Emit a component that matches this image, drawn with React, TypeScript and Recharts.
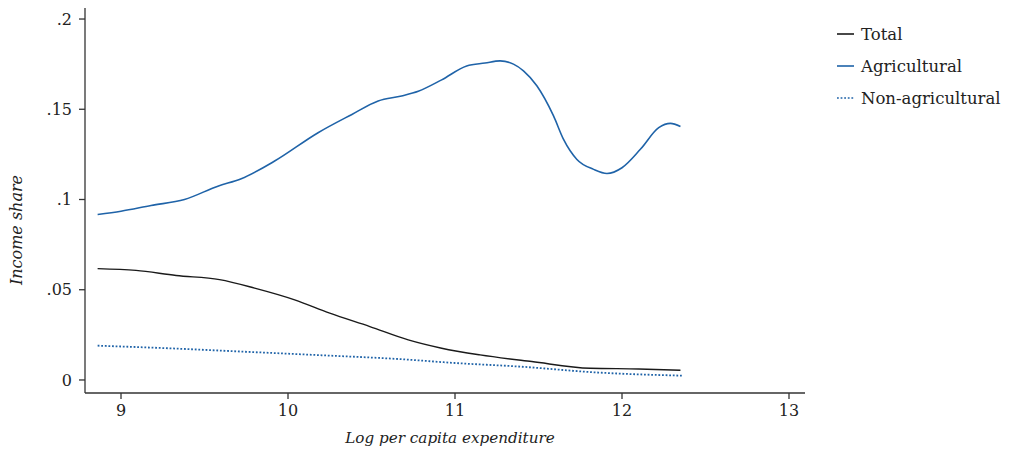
import { LineChart, Line, XAxis, YAxis, Legend } from 'recharts';

// Log per capita expenditure (x) and income share (y), read per series
const totalX = [8.86, 9.09, 9.33, 9.59, 9.8, 10.04, 10.25, 10.49, 10.72, 10.92, 11.15, 11.46, 11.81, 12.1, 12.35];
const totalY = [0.0617, 0.0607, 0.0579, 0.0556, 0.0509, 0.0444, 0.037, 0.0296, 0.0222, 0.0176, 0.0139, 0.0102, 0.0065, 0.0061, 0.0054];

const agriX = [
  8.86, 9.0, 9.18, 9.38, 9.58, 9.72, 9.92, 10.18, 10.38, 10.54, 10.68, 10.78, 10.92, 11.07, 11.18,
  11.27, 11.35, 11.41, 11.49, 11.59, 11.65, 11.73, 11.83, 11.91, 12.0, 12.11, 12.22, 12.29, 12.35,
];
const agriY = [
  0.0917, 0.0935, 0.0967, 0.1, 0.1074, 0.1115, 0.1213, 0.137, 0.147, 0.1546, 0.1574, 0.16, 0.1663, 0.174, 0.1756,
  0.1768, 0.175, 0.1713, 0.163, 0.1463, 0.1333, 0.1222, 0.1167, 0.1144, 0.1176, 0.1278, 0.1398, 0.1422, 0.1404,
];

const nonAgriX = [8.86, 9.3, 9.73, 10.2, 10.68, 11.0, 11.39, 11.86, 12.1, 12.36];
const nonAgriY = [0.019, 0.0175, 0.0157, 0.0137, 0.0115, 0.0094, 0.0074, 0.0041, 0.0031, 0.0024];

const seriesNames = ['Total', 'Agricultural', 'Non-agricultural'];

const xTicks = [9, 10, 11, 12, 13];
const yTicks = [0, 0.05, 0.1, 0.15, 0.2];
const yTickLabels = ['0', '.05', '.1', '.15', '.2'];

const toPoints = (xs: number[], ys: number[]) => xs.map((x, i) => ({ x, y: ys[i] }));

const FONT = '"DejaVu Serif", serif';
const AXIS_COLOR = '#333';
const BLUE = '#1f63a8';
const DOTS = '1.8 1.8';
const TICK_STYLE = { fill: '#222', fontSize: 16, fontFamily: FONT };

function LegendContent({ payload }: any) {
  const items = [...(payload || [])].sort(
    (a: any, b: any) => seriesNames.indexOf(a.value) - seriesNames.indexOf(b.value)
  );
  return (
    <div style={{ fontFamily: FONT, fontSize: 16.5, color: '#222' }}>
      {items.map((p: any) => (
        <div key={p.value} style={{ display: 'flex', alignItems: 'center', height: 32 }}>
          <svg width={22} height={10} style={{ marginRight: 3 }}>
            <line
              x1={1}
              x2={18}
              y1={5}
              y2={5}
              stroke={p.color}
              strokeWidth={1.6}
              strokeDasharray={p.value === 'Non-agricultural' ? DOTS : undefined}
            />
          </svg>
          <span>{p.value}</span>
        </div>
      ))}
    </div>
  );
}

export default function App() {
  return (
    <div style={{ position: 'absolute', left: 0, top: 0 }}>
      <LineChart width={1011} height={451} margin={{ top: 8, right: 206, bottom: 8, left: 0 }}>
        <XAxis
          type="number"
          dataKey="x"
          domain={[8.7844, 13.0958]}
          allowDataOverflow
          ticks={xTicks}
          tick={TICK_STYLE}
          tickSize={6}
          tickMargin={6}
          axisLine={{ stroke: AXIS_COLOR, strokeWidth: 1.3 }}
          tickLine={{ stroke: AXIS_COLOR, strokeWidth: 1.3 }}
          height={50}
          label={{
            content: () => (
              <text x={450} y={443} textAnchor="middle" fontFamily={FONT} fontStyle="italic" fontSize={15.2} fill="#222">
                Log per capita expenditure
              </text>
            ),
          }}
        />
        <YAxis
          type="number"
          dataKey="y"
          domain={[-0.00722, 0.20611]}
          allowDataOverflow
          ticks={yTicks}
          tickFormatter={(v: number) => yTickLabels[yTicks.indexOf(v)] ?? String(v)}
          tick={TICK_STYLE}
          tickSize={6}
          tickMargin={7}
          axisLine={{ stroke: AXIS_COLOR, strokeWidth: 1.3 }}
          tickLine={{ stroke: AXIS_COLOR, strokeWidth: 1.3 }}
          width={85}
          label={{
            content: () => (
              <text
                x={22}
                y={230}
                transform="rotate(-90 22 230)"
                textAnchor="middle"
                fontFamily={FONT}
                fontStyle="italic"
                fontSize={16}
                fill="#222"
              >
                Income share
              </text>
            ),
          }}
        />
        <Legend
          layout="vertical"
          align="center"
          verticalAlign="middle"
          content={<LegendContent />}
          wrapperStyle={{ left: 836, top: 18, width: 175 }}
        />
        <Line
          name="Total"
          data={toPoints(totalX, totalY)}
          dataKey="y"
          type="monotone"
          stroke="#1a1a1a"
          strokeWidth={1.4}
          dot={false}
          isAnimationActive={false}
        />
        <Line
          name="Agricultural"
          data={toPoints(agriX, agriY)}
          dataKey="y"
          type="monotone"
          stroke={BLUE}
          strokeWidth={1.6}
          dot={false}
          isAnimationActive={false}
        />
        <Line
          name="Non-agricultural"
          data={toPoints(nonAgriX, nonAgriY)}
          dataKey="y"
          type="monotone"
          stroke={BLUE}
          strokeWidth={1.8}
          strokeDasharray={DOTS}
          dot={false}
          isAnimationActive={false}
        />
      </LineChart>
    </div>
  );
}
